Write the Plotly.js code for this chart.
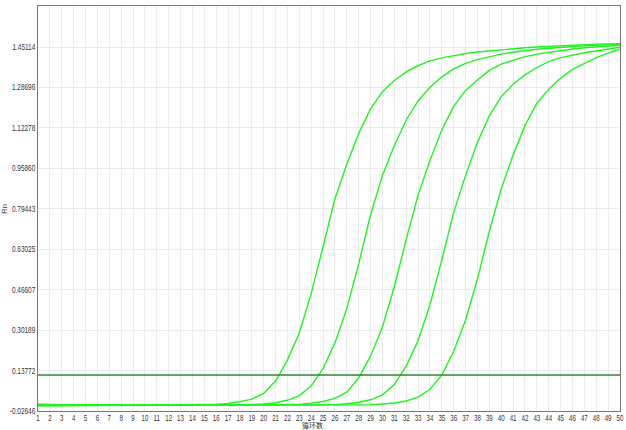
<!DOCTYPE html>
<html>
<head>
<meta charset="utf-8">
<script src="https://cdn.plot.ly/plotly-3.0.1.min.js"></script>
<style>html,body{margin:0;padding:0;background:#fff;}#chart{width:626px;height:430px;}</style>
</head>
<body>
<div id="chart"></div>
<script>
const cycles = Array.from({length: 50}, (_, i) => i + 1);

const curve1 = [0.001,-0.001,-0.001,-0.002,-0.002,-0.002,-0.002,-0.003,-0.003,-0.003,
  -0.003,-0.003,-0.003,-0.003,-0.002,0.000,0.004,0.011,0.022,0.045,
  0.095,0.180,0.290,0.450,0.640,0.835,0.975,1.100,1.200,1.270,
  1.315,1.350,1.375,1.395,1.407,1.417,1.425,1.431,1.436,1.440,
  1.444,1.448,1.451,1.454,1.457,1.459,1.461,1.463,1.464,1.465];

const curve2 = [-0.004,-0.004,-0.004,-0.004,-0.003,-0.003,-0.003,-0.003,-0.003,-0.003,
  -0.003,-0.003,-0.003,-0.003,-0.003,-0.003,-0.003,-0.002,-0.001,0.002,
  0.007,0.017,0.036,0.075,0.146,0.250,0.390,0.570,0.770,0.930,
  1.050,1.155,1.232,1.288,1.330,1.362,1.385,1.400,1.412,1.422,
  1.430,1.437,1.442,1.446,1.450,1.453,1.456,1.458,1.460,1.462];

const curve3 = [-0.002,-0.002,-0.002,-0.002,-0.002,-0.002,-0.003,-0.003,-0.003,-0.003,
  -0.003,-0.003,-0.003,-0.003,-0.003,-0.003,-0.003,-0.003,-0.003,-0.003,
  -0.003,-0.002,0.000,0.005,0.012,0.025,0.050,0.108,0.197,0.314,
  0.478,0.670,0.850,0.990,1.115,1.210,1.275,1.317,1.356,1.382,
  1.398,1.412,1.422,1.430,1.437,1.443,1.448,1.452,1.455,1.458];

const curve4 = [0.000,-0.001,-0.002,-0.002,-0.002,-0.003,-0.003,-0.003,-0.003,-0.003,
  -0.003,-0.003,-0.003,-0.003,-0.003,-0.003,-0.003,-0.003,-0.003,-0.003,
  -0.003,-0.003,-0.003,-0.003,-0.002,-0.001,0.003,0.009,0.019,0.039,
  0.081,0.156,0.259,0.405,0.587,0.780,0.930,1.064,1.172,1.250,
  1.300,1.338,1.368,1.392,1.408,1.419,1.428,1.435,1.444,1.450];

const curve5 = [-0.005,-0.004,-0.004,-0.004,-0.004,-0.004,-0.004,-0.004,-0.004,-0.004,
  -0.004,-0.004,-0.004,-0.004,-0.004,-0.004,-0.004,-0.004,-0.004,-0.004,
  -0.004,-0.004,-0.004,-0.004,-0.004,-0.004,-0.003,-0.003,-0.001,0.002,
  0.006,0.014,0.030,0.062,0.119,0.216,0.343,0.510,0.703,0.876,
  1.013,1.133,1.223,1.280,1.325,1.360,1.385,1.408,1.426,1.442];

const thresholdX = [1, 50];
const thresholdY = [0.1197, 0.1197];

const yTickVals = [-0.02646,0.13772,0.30189,0.46607,0.63025,0.79443,0.95860,1.12278,1.28696,1.45114];
const yTickText = ["-0.02646","0.13772","0.30189","0.46607","0.63025","0.79443","0.95860","1.12278","1.28696","1.45114"];

const curveColor = '#22f222';
const allCurves = [curve1, curve2, curve3, curve4, curve5];
const traces = allCurves.map(c => ({
  x: cycles, y: c, type: 'scatter', mode: 'lines',
  line: {color: curveColor, width: 1.4}, hoverinfo: 'skip'
}));
traces.push({
  x: thresholdX, y: thresholdY, type: 'scatter', mode: 'lines',
  line: {color: '#2a862a', width: 1.5}, hoverinfo: 'skip'
});

const tickFont = {family: '"Liberation Sans", Arial, sans-serif', size: 8.5, color: '#333'};

const layout = {
  width: 626, height: 430,
  margin: {l: 38, r: 6, t: 6, b: 19, pad: 0},
  paper_bgcolor: '#fff', plot_bgcolor: '#fff',
  showlegend: false,
  xaxis: {
    range: [1, 50], tickmode: 'array', tickvals: cycles, ticktext: cycles.map(String),
    showgrid: true, gridcolor: '#ececec', gridwidth: 1, zeroline: false,
    showline: true, linecolor: '#777', linewidth: 1, mirror: true,
    ticks: '', tickfont: tickFont, automargin: false, ticklabelstandoff: -1
  },
  yaxis: {
    range: [-0.02646, 1.6176], tickmode: 'array', tickvals: yTickVals, ticktext: yTickText,
    showgrid: true, gridcolor: '#ececec', gridwidth: 1, zeroline: false,
    showline: true, linecolor: '#777', linewidth: 1, mirror: true,
    ticks: '', tickfont: tickFont, automargin: false
  },
  annotations: [
    {text: '循环数', xref: 'paper', yref: 'paper', x: 0.471, y: 0, yshift: -14,
     xanchor: 'center', yanchor: 'middle', showarrow: false,
     font: {family: '"Noto Sans CJK SC", sans-serif', size: 7, color: '#333'}},
    {text: 'Rn', xref: 'paper', yref: 'paper', x: -0.058, y: 0.5, textangle: -90,
     xanchor: 'center', yanchor: 'middle', showarrow: false,
     font: {family: '"Liberation Sans", Arial, sans-serif', size: 7.5, color: '#333'}}
  ]
};

function condense(gd) {
  const squeeze = (sel, ratio) => {
    gd.querySelectorAll(sel).forEach(t => {
      const w = t.getComputedTextLength();
      if (w > 0) {
        t.setAttribute('textLength', (w * ratio).toFixed(2));
        t.setAttribute('lengthAdjust', 'spacingAndGlyphs');
      }
    });
  };
  squeeze('.ytick text', 0.76);
  squeeze('.xtick text', 0.72);
}

Plotly.newPlot('chart', traces, layout, {displayModeBar: false, staticPlot: true})
  .then(gd => condense(gd));
</script>
</body>
</html>
